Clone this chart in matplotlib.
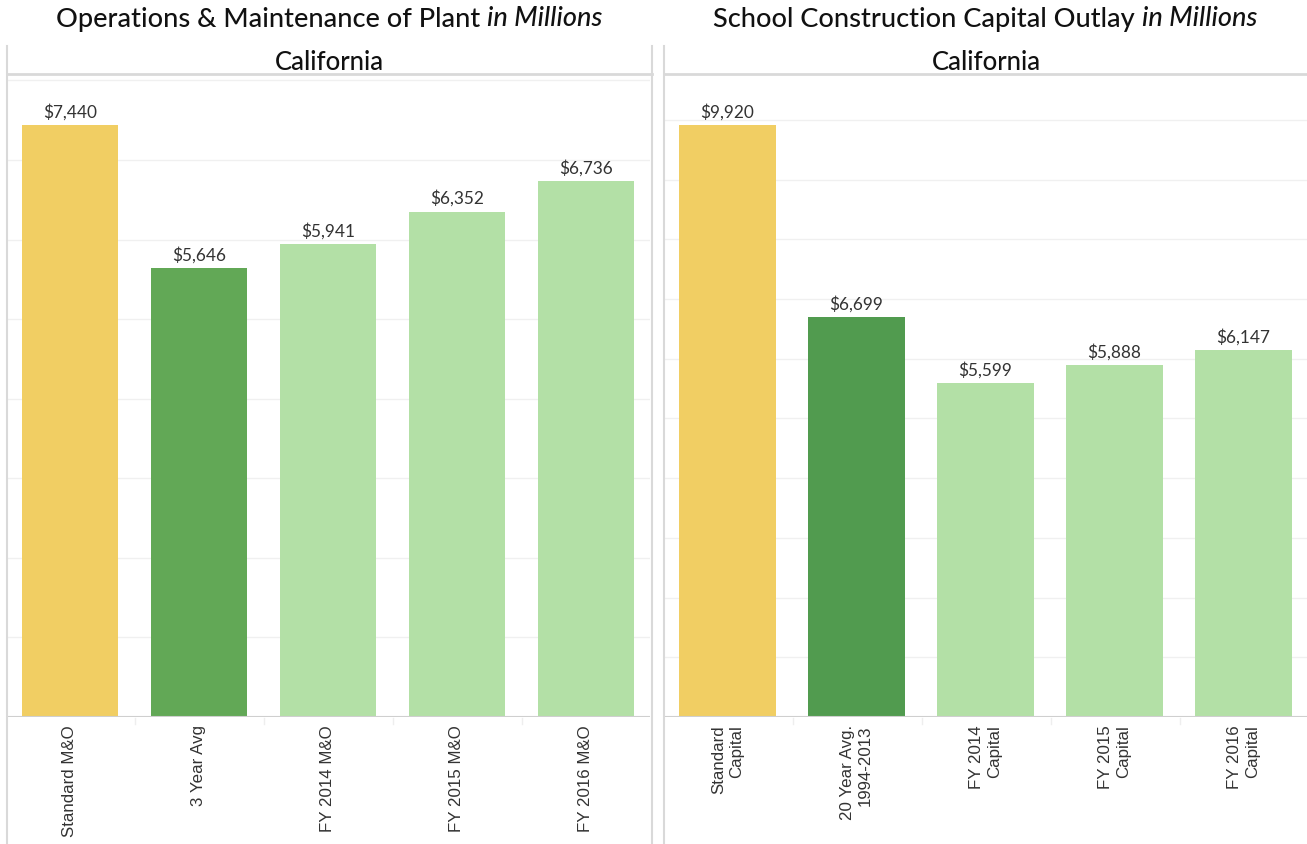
import matplotlib.pyplot as plt
import matplotlib.lines as mlines

# O&M of plant, California (millions)
om_labels = ["Standard M&O", "3 Year Avg", "FY 2014 M&O", "FY 2015 M&O", "FY 2016 M&O"]
om_values = [7440, 5646, 5941, 6352, 6736]
om_colors = ["#F1CE63", "#62A856", "#B3E0A6", "#B3E0A6", "#B3E0A6"]

# School construction capital outlay, California (millions)
cap_labels = ["Standard\nCapital", "20 Year Avg.\n1994-2013", "FY 2014\nCapital",
              "FY 2015\nCapital", "FY 2016\nCapital"]
cap_values = [9920, 6699, 5599, 5888, 6147]
cap_colors = ["#F1CE63", "#519B4F", "#B3E0A6", "#B3E0A6", "#B3E0A6"]

W, H = 1307, 844
fig = plt.figure(figsize=(W / 100, H / 100), dpi=100)
plt.rcParams['font.family'] = ['Lato', 'DejaVu Sans']

LINE = "#d9d9d9"
TEXT = "#333333"


def px(x0, y0, x1, y1):
    # pixel box (top-left origin) -> figure fraction rect
    return [x0 / W, 1 - y1 / H, (x1 - x0) / W, (y1 - y0) / H]


def panel(rect, labels, values, colors, ymax, step):
    ax = fig.add_axes(rect)
    xs = range(len(values))
    ax.bar(xs, values, width=0.745, color=colors, zorder=2)
    for x, v in zip(xs, values):
        ax.text(x, v + ymax * 0.007, "${:,}".format(v), ha='center', va='bottom',
                fontsize=12.4, color=TEXT, zorder=3)
    ax.set_xlim(-0.5, len(values) - 0.5)
    ax.set_ylim(0, ymax)
    ax.set_yticks(range(step, int(ymax) + 1, step))
    ax.yaxis.grid(True, color="#f0f0f0", linewidth=1, zorder=0)
    ax.tick_params(axis='y', left=False, labelleft=False)
    ax.set_xticks(list(xs))
    ax.set_xticklabels(labels, rotation=90, ha='center', va='top', multialignment='right',
                       family=['Liberation Sans', 'DejaVu Sans'], fontsize=12.2, color=TEXT)
    ax.tick_params(axis='x', length=0, pad=6)
    for s in ax.spines.values():
        s.set_visible(False)
    ax.axhline(0, color="#cfcfcf", linewidth=1.5, zorder=4)
    return ax


panel(px(5.5, 74, 650, 717), om_labels, om_values, om_colors, 8080, 1000)
panel(px(663, 74, 1308, 717), cap_labels, cap_values, cap_colors, 10770, 1000)


def fline(x0, y0, x1, y1, lw=2, color=LINE):
    fig.add_artist(mlines.Line2D([x0 / W, x1 / W], [1 - y0 / H, 1 - y1 / H],
                                 color=color, linewidth=lw, transform=fig.transFigure))


# panel frames
for xv in (7, 652, 664):
    fline(xv, 46, xv, 844, lw=1.5)
fline(7, 74, 652, 74)
fline(664, 74, 1307, 74)

# category separators under the baseline
for cx in (135, 264, 393, 522):
    fline(cx, 718, cx, 724, lw=1, color="#eeeeee")
    fline(cx + 657.5, 718, cx + 657.5, 724, lw=1, color="#eeeeee")

for cx in (329, 986):
    fig.text(cx / W, 1 - 62 / H, "California", ha='center', va='center',
             fontsize=18.5, color="#111111", fontweight='medium')

renderer = fig.canvas.get_renderer()


def title(cx, main, ital):
    t1 = fig.text(0, 1 - 19 / H, main, ha='left', va='center', fontsize=19.5, color="#111111",
                  fontweight='medium')
    t2 = fig.text(0, 1 - 19 / H, ital, ha='left', va='center', fontsize=19.5, color="#111111",
                  style='italic', fontweight='medium')
    w1 = t1.get_window_extent(renderer).width
    w2 = t2.get_window_extent(renderer).width
    x0 = cx - (w1 + w2) / 2
    t1.set_x(x0 / W)
    t2.set_x((x0 + w1) / W)


title(329, "Operations & Maintenance of Plant ", "in Millions")
title(985, "School Construction Capital Outlay ", "in Millions")

fig.savefig("out.png", dpi=100)
